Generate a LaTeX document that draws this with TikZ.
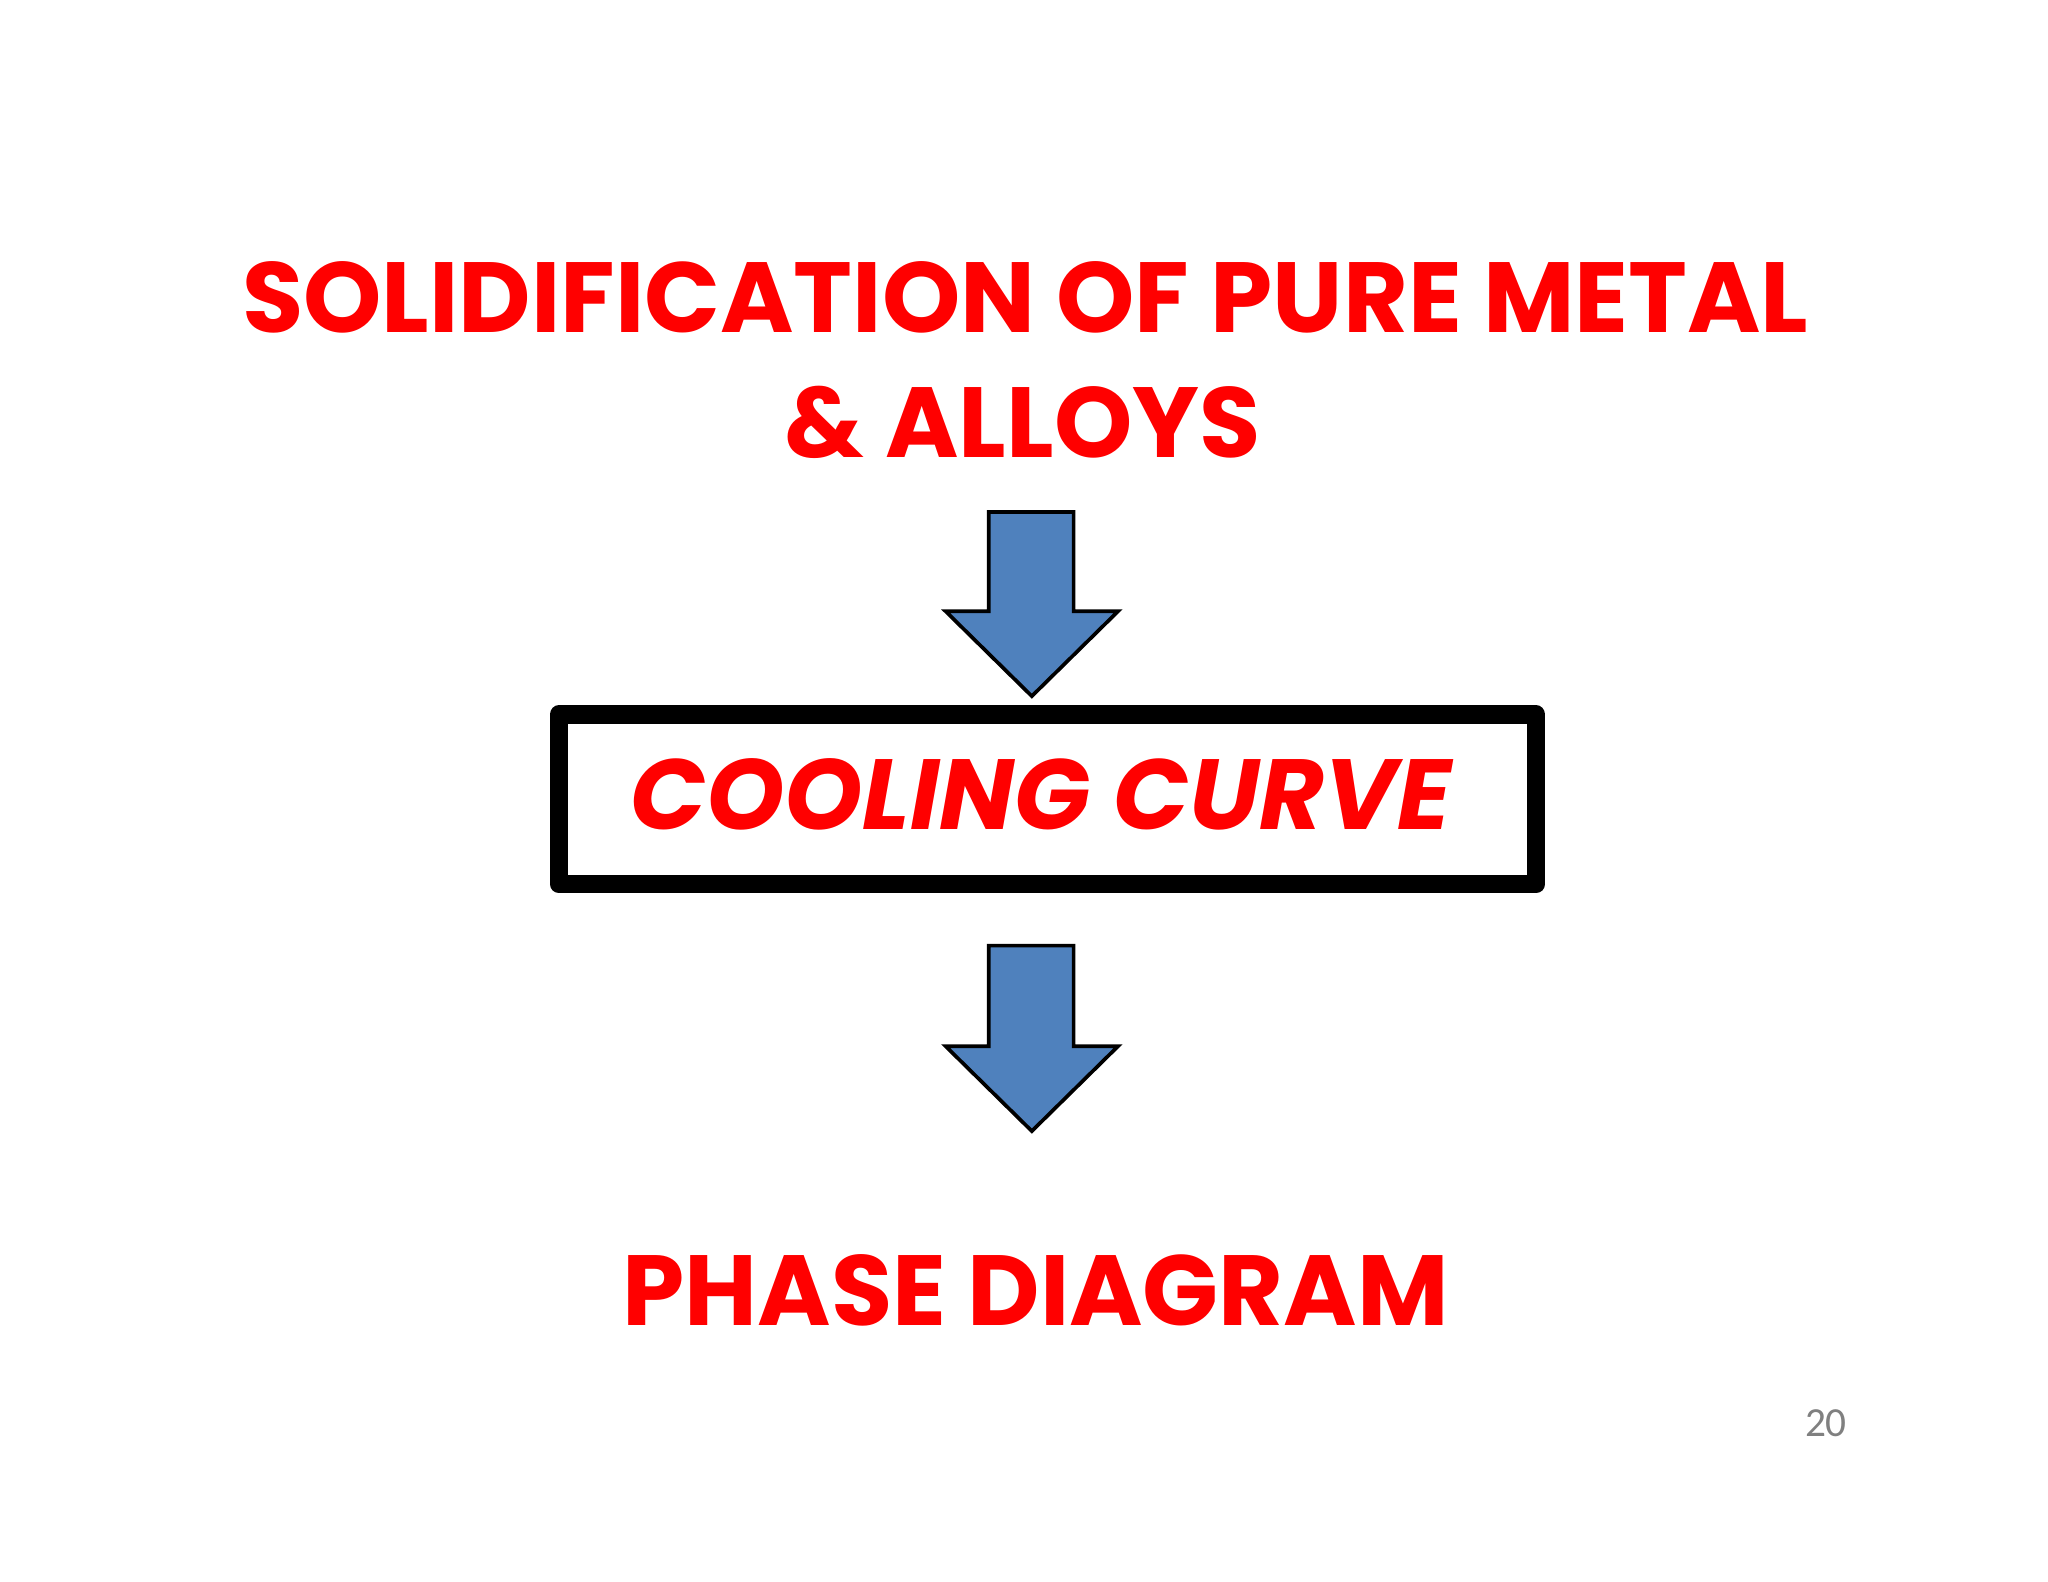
\documentclass[tikz,border=0pt]{standalone}
\usepackage{fontspec}
\setmainfont{Poppins}
\newfontfamily\numfont{Carlito}
\definecolor{tred}{RGB}{255,0,0}
\definecolor{ablue}{RGB}{79,129,189}
\begin{document}
\begin{tikzpicture}[x=0.01cm,y=-0.01cm,
  ttl/.style={text=tred,font=\fontsize{21.7}{26}\selectfont\bfseries,inner sep=0pt},
  darrow/.style={fill=ablue,draw=black,line width=0.8pt}]
\useasboundingbox (0,0) rectangle (1568,1211);
\node[ttl] (t1) at (785,228) {SOLIDIFICATION OF PURE METAL};
\node[ttl] (t2) at (783,323) {\& ALLOYS};
\draw[darrow] (757,392) -- (822,392) -- (822,468) -- (856,468) -- (790,533) -- (724,468) -- (757,468) -- cycle;
\draw[line width=4pt,line join=round] (428,547) rectangle (1176,677);
\node[ttl,font=\fontsize{21.7}{26}\selectfont\bfseries\itshape] (cc) at (797,608) {COOLING CURVE};
\draw[darrow] (757,724) -- (822,724) -- (822,801) -- (856,801) -- (790,866) -- (724,801) -- (757,801) -- cycle;
\node[ttl] (pd) at (793,988) {PHASE DIAGRAM};
\node[text=gray,font=\numfont\fontsize{9}{11}\selectfont] (pn) at (1398,1090) {20};
\end{tikzpicture}
\end{document}
